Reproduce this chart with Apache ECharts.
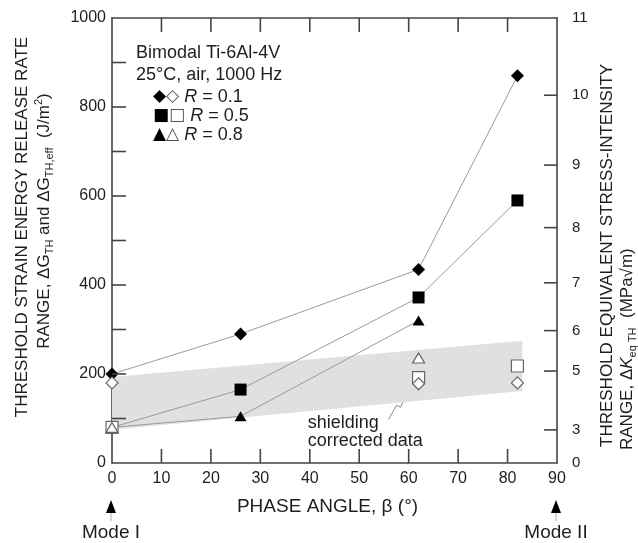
<!DOCTYPE html>
<html>
<head>
<meta charset="utf-8">
<script src="https://cdn.jsdelivr.net/npm/echarts@6/dist/echarts.min.js"></script>
<style>
html, body { margin: 0; padding: 0; background: #fff; }
#chart { width: 638px; height: 543px; }
</style>
</head>
<body>
<div id="chart"></div>
<script>
// phase angle (deg) of the tests
var phase = [0, 26, 62, 82]
// measured ΔG_TH (J/m²), filled symbols
var r01 = [200, 290, 435, 870]
var r05 = [80, 165, 372, 590]
var r08 = [80, 105, 320] // no test at 82°
// shielding corrected ΔG_TH,eff, open symbols
var effPhase01 = [0, 62, 82]
var eff01 = [180, 178, 180]
var effPhase05 = [0, 62, 82]
var eff05 = [80, 192, 218]
var effPhase08 = [0, 62]
var eff08 = [80, 236]
// grey scatter band of the corrected data
var bandX = [0, 83]
var bandLow = [75, 162]
var bandHigh = [193, 275]
// tick positions
var xTicks = [10, 20, 30, 40, 50, 60, 70, 80]
var gTicks = [100, 200, 300, 400, 500, 600, 700, 800, 900]
// right axis labels ΔK_eq,TH (MPa√m)
var kTicks = [0, 3, 5, 6, 7, 8, 9, 10, 11]

var FONT = '"Liberation Sans", Arial, sans-serif'
var INK = '#1e1e1e'
var AXIS = '#444'

// ΔG scale is 1000 J/m² at ΔK = 11, G ~ K²
function kToG (k) { return 1000 * (k / 11) * (k / 11) }
function gToK (g) { return Math.round(11 * Math.sqrt(g / 1000)) }

function pairs (xs, ys) {
  return ys.map(function (y, i) { return [xs[i], y] })
}

var chart = echarts.init(document.getElementById('chart'))

function axisLine () {
  return { show: true, onZero: false, lineStyle: { color: AXIS, width: 1.6 } }
}

// inward ticks, drawn from axis values (axisTick.inside misplaces them here)
function tickSeries (vals, onAxis, dir) {
  return {
    type: 'custom',
    silent: true,
    clip: false,
    z: 5,
    data: vals.map(onAxis),
    renderItem: function (params, api) {
      var p = api.coord([api.value(0), api.value(1)])
      return {
        type: 'line',
        shape: { x1: p[0], y1: p[1], x2: p[0] + dir[0], y2: p[1] + dir[1] },
        style: { stroke: AXIS, lineWidth: 1.6 }
      }
    }
  }
}

function filled (name, sym, size, ys) {
  return {
    name: name,
    type: 'line',
    data: pairs(phase, ys),
    symbol: sym,
    symbolSize: size,
    clip: false,
    z: 3,
    lineStyle: { color: '#9a9a9a', width: 1 },
    itemStyle: { color: '#000' }
  }
}

function open (name, sym, size, xs, ys) {
  return {
    name: name,
    type: 'scatter',
    data: pairs(xs, ys),
    symbol: sym,
    symbolSize: size,
    clip: false,
    z: 4,
    itemStyle: { color: '#fff', borderColor: '#666', borderWidth: 1.2, opacity: 1 }
  }
}

chart.setOption({
  animation: false,
  textStyle: { fontFamily: FONT },
  grid: { left: 112, right: 81, top: 18, bottom: 80 },
  xAxis: [{
    type: 'value',
    min: 0,
    max: 90,
    interval: 10,
    position: 'bottom',
    axisLine: axisLine(),
    axisTick: { show: false },
    splitLine: { show: false },
    axisLabel: { fontSize: 16, color: INK, margin: 8, fontFamily: FONT },
    name: 'PHASE ANGLE, β (°)',
    nameLocation: 'middle',
    nameGap: 34,
    nameTextStyle: { fontSize: 19, color: INK, fontFamily: FONT, padding: [0, 14, 0, 0] }
  }, {
    type: 'value',
    min: 0,
    max: 90,
    interval: 10,
    position: 'top',
    axisLine: axisLine(),
    axisTick: { show: false },
    axisLabel: { show: false },
    splitLine: { show: false }
  }],
  yAxis: [{
    type: 'value',
    min: 0,
    max: 1000,
    interval: 100,
    position: 'left',
    axisLine: axisLine(),
    axisTick: { show: false },
    splitLine: { show: false },
    axisLabel: {
      fontSize: 16,
      color: INK,
      margin: 6,
      fontFamily: FONT,
      formatter: function (v) { return v % 200 === 0 ? String(v) : '' }
    }
  }, {
    type: 'value',
    min: 0,
    max: 1000,
    position: 'right',
    axisLine: axisLine(),
    axisTick: { show: false },
    splitLine: { show: false },
    axisLabel: {
      fontSize: 15,
      color: INK,
      margin: 15,
      fontFamily: FONT,
      customValues: kTicks.map(kToG),
      formatter: function (v) { return String(gToK(v)) }
    }
  }],
  series: [
    {
      name: 'band',
      type: 'custom',
      silent: true,
      z: 1,
      data: [[bandX[0], bandLow[0]]],
      renderItem: function (params, api) {
        var pts = []
        for (var i = 0; i < bandX.length; i++) pts.push(api.coord([bandX[i], bandLow[i]]))
        for (var j = bandX.length - 1; j >= 0; j--) pts.push(api.coord([bandX[j], bandHigh[j]]))
        return { type: 'polygon', shape: { points: pts }, style: { fill: '#e0e0e0' } }
      }
    },
    tickSeries(xTicks, function (v) { return [v, 0] }, [0, -14]),
    tickSeries(xTicks, function (v) { return [v, 1000] }, [0, 14]),
    tickSeries(gTicks, function (v) { return [0, v] }, [14, 0]),
    tickSeries(kTicks.slice(1, -1).map(kToG), function (v) { return [90, v] }, [-13, 0]),
    filled('R = 0.1', 'diamond', 13, r01),
    filled('R = 0.5', 'rect', 12, r05),
    filled('R = 0.8', 'triangle', [12, 10], r08),
    open('R = 0.5 corr', 'rect', 12, effPhase05, eff05),
    open('R = 0.8 corr', 'triangle', [12, 10], effPhase08, eff08),
    open('R = 0.1 corr', 'diamond', 12, effPhase01, eff01)
  ]
})

// annotations placed from data coordinates
function px (x, y) { return chart.convertToPixel({ gridIndex: 0 }, [x, y]) }

var graphics = []

// left axis title
graphics.push({
  type: 'text', x: 22, y: 227, rotation: Math.PI / 2,
  style: { text: 'THRESHOLD STRAIN ENERGY RELEASE RATE', font: '17px ' + FONT, fill: INK, align: 'center', verticalAlign: 'middle' }
})
graphics.push({
  type: 'text', x: 44, y: 221, rotation: Math.PI / 2,
  style: {
    text: '{n|RANGE, ΔG}{s|TH}{n| and ΔG}{s|TH,eff}{n|  (J/m}{p|2}{n|)}',
    align: 'center', verticalAlign: 'middle', fill: INK,
    rich: {
      n: { fontSize: 17, fontFamily: FONT, lineHeight: 22, fill: INK },
      s: { fontSize: 11, fontFamily: FONT, lineHeight: 9, verticalAlign: 'bottom', fill: INK },
      p: { fontSize: 11, fontFamily: FONT, lineHeight: 9, verticalAlign: 'top', fill: INK }
    }
  }
})

// right axis title, both lines start at the bottom
graphics.push({
  type: 'text', x: 607, y: 447, rotation: Math.PI / 2,
  style: { text: 'THRESHOLD EQUIVALENT STRESS-INTENSITY', font: '17px ' + FONT, fill: INK, align: 'left', verticalAlign: 'middle' }
})
graphics.push({
  type: 'text', x: 627, y: 450, rotation: Math.PI / 2,
  style: {
    text: '{n|RANGE, Δ}{i|K}{s|eq TH}{n|  (MPa√m)}',
    align: 'left', verticalAlign: 'middle', fill: INK,
    rich: {
      n: { fontSize: 17, fontFamily: FONT, lineHeight: 22, fill: INK },
      i: { fontSize: 17, fontFamily: FONT, fontStyle: 'italic', lineHeight: 22, fill: INK },
      s: { fontSize: 11, fontFamily: FONT, lineHeight: 9, verticalAlign: 'bottom', fill: INK }
    }
  }
})

// legend block
var legendRich = {
  n: { fontSize: 18, fontFamily: FONT, fill: INK },
  i: { fontSize: 18, fontFamily: FONT, fontStyle: 'italic', fill: INK },
  m: { fontSize: 17, fontFamily: '"DejaVu Sans", sans-serif', fill: '#000' },
  o: { fontSize: 17, fontFamily: '"DejaVu Sans", sans-serif', fill: '#555' }
}
graphics.push({ type: 'text', x: 136, y: 53, style: { text: 'Bimodal Ti-6Al-4V', font: '18px ' + FONT, fill: INK, verticalAlign: 'middle' } })
graphics.push({ type: 'text', x: 136, y: 75, style: { text: '25°C, air, 1000 Hz', font: '18px ' + FONT, fill: INK, verticalAlign: 'middle' } })
var legendRows = [['◆', '◇', '0.1'], ['■', '□', '0.5'], ['▲', '△', '0.8']]
legendRows.forEach(function (row, i) {
  graphics.push({
    type: 'text', x: 153, y: 97 + i * 19,
    style: {
      text: '{m|' + row[0] + '}{o|' + row[1] + '}{n| }{i|R}{n| = ' + row[2] + '}',
      verticalAlign: 'middle', rich: legendRich
    }
  })
})

// shielding note with zigzag arrow
var tip = px(61, 168)
var t = function (dx, dy) { return [tip[0] + dx, tip[1] + dy] }
graphics.push({
  type: 'polyline',
  shape: { points: [t(-25, 31), t(-17, 17), t(-13, 19), t(-10, 12), t(-5, 6)] },
  style: { stroke: '#888', lineWidth: 1, fill: null }
})
graphics.push({
  type: 'polygon',
  shape: { points: [t(0, 0), t(-3, 11), t(-10, 5)] },
  style: { fill: '#000' }
})
var note = px(39.6, 70)
graphics.push({
  type: 'text', x: note[0], y: note[1],
  style: { text: 'shielding\ncorrected data', font: '18px ' + FONT, fill: INK, lineHeight: 18, verticalAlign: 'middle' }
})

// Mode I / Mode II markers under the axis ends
;[[0, 'Mode I'], [90, 'Mode II']].forEach(function (m) {
  var p = px(m[0], 0)
  var x = p[0] - 1
  graphics.push({ type: 'line', shape: { x1: x, y1: p[1] + 48, x2: x, y2: p[1] + 58 }, style: { stroke: '#aaa', lineWidth: 1 } })
  graphics.push({ type: 'polygon', shape: { points: [[x, p[1] + 37], [x - 5, p[1] + 50], [x + 5, p[1] + 50]] }, style: { fill: '#000' } })
  graphics.push({ type: 'text', x: x, y: p[1] + 70, style: { text: m[1], font: '19px ' + FONT, fill: INK, align: 'center', verticalAlign: 'middle' } })
})

chart.setOption({ graphic: graphics })
</script>
</body>
</html>
